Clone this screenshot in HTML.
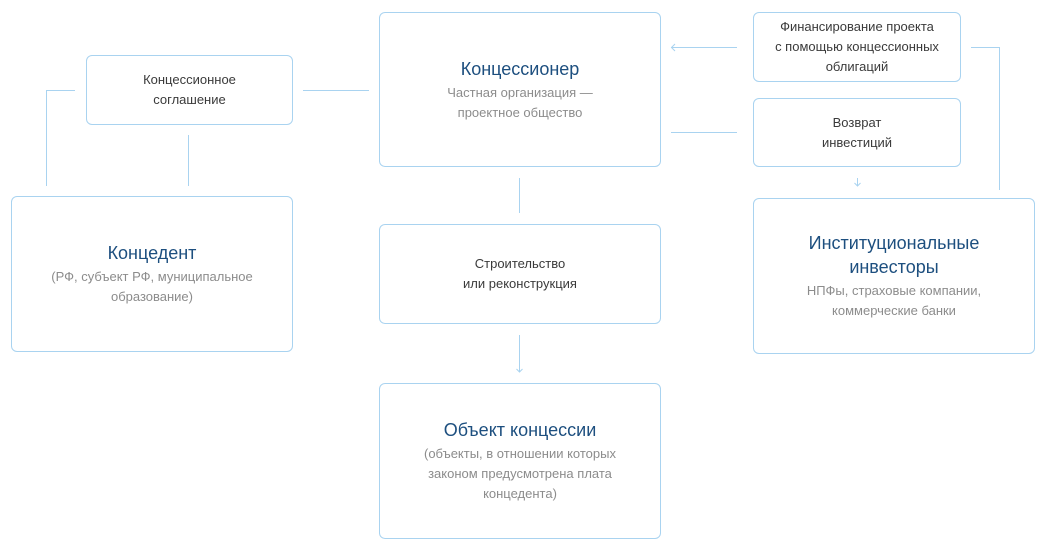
<!DOCTYPE html>
<html><head><meta charset="utf-8"><style>
body{margin:0;width:1045px;height:550px;background:#fff;position:relative;font-family:"Liberation Sans","DejaVu Sans",sans-serif;overflow:hidden}
.b{position:absolute;box-sizing:border-box;border:1px solid #a9d3f0;border-radius:6px;display:flex;flex-direction:column;align-items:center;justify-content:center;text-align:center;font-size:13px;line-height:20px;color:#3a3a3a}
.t{font-size:18px;line-height:24px;color:#1d4f7f;margin-bottom:2px}
.s{color:#8c8c8c}
svg{position:absolute;left:0;top:0}
</style></head><body>
<svg width="1045" height="550" fill="none" stroke="#a9d3f0" stroke-width="1">
<path d="M75 90.5H46.5V186"/>
<path d="M188.5 135V186"/>
<path d="M303 90.5H369"/>
<path d="M671 47.5H737M675 44l-3.5 3.5 3.5 3.5"/>
<path d="M671 132.5H737"/>
<path d="M857.5 178V186M854.5 183l3 3 3-3"/>
<path d="M971 47.5H999.5V190"/>
<path d="M519.5 178V213"/>
<path d="M519.5 335V372M516.5 369l3 3 3-3"/>
</svg>
<div class="b" style="left:86px;top:55px;width:207px;height:70px">Концессионное<br>соглашение</div>
<div class="b" style="left:379px;top:12px;width:282px;height:155px"><div class="t">Концессионер</div><div class="s">Частная организация —<br>проектное общество</div></div>
<div class="b" style="left:753px;top:12px;width:208px;height:70px">Финансирование проекта<br>с помощью концессионных<br>облигаций</div>
<div class="b" style="left:753px;top:98px;width:208px;height:69px">Возврат<br>инвестиций</div>
<div class="b" style="left:11px;top:196px;width:282px;height:156px"><div class="t">Концедент</div><div class="s">(РФ, субъект РФ, муниципальное<br>образование)</div></div>
<div class="b" style="left:379px;top:224px;width:282px;height:100px">Строительство<br>или реконструкция</div>
<div class="b" style="left:753px;top:198px;width:282px;height:156px"><div class="t">Институциональные<br>инвесторы</div><div class="s">НПФы, страховые компании,<br>коммерческие банки</div></div>
<div class="b" style="left:379px;top:383px;width:282px;height:156px"><div class="t">Объект концессии</div><div class="s">(объекты, в отношении которых<br>законом предусмотрена плата<br>концедента)</div></div>
</body></html>
